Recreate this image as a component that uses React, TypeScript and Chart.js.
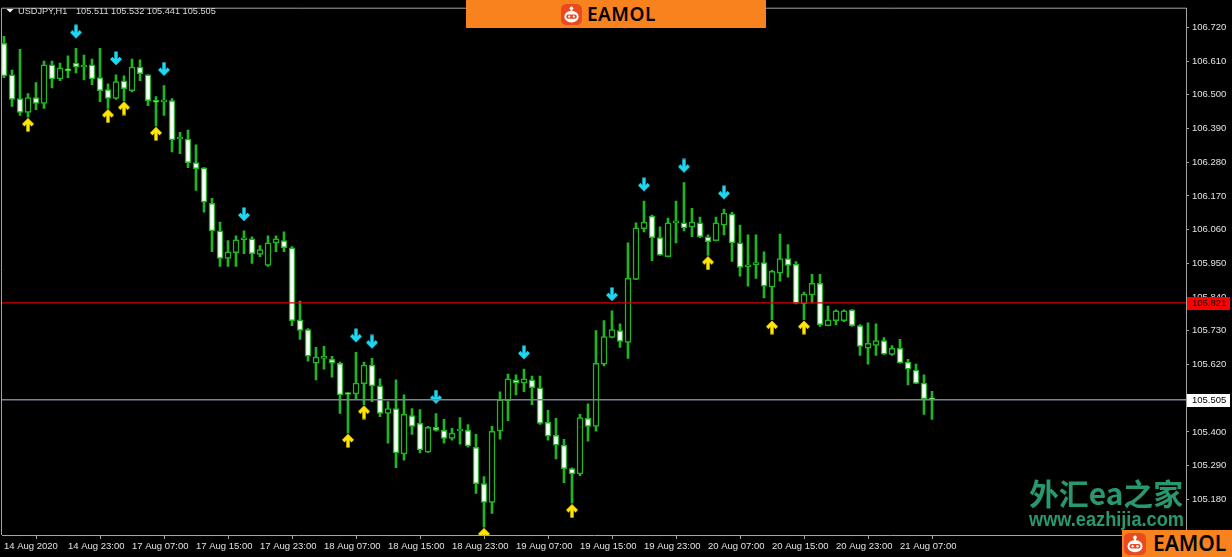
import React, { useEffect, useRef } from "react";
import { Chart, registerables } from "chart.js";

Chart.register(...registerables);

// ---- USDJPY H1 bars (index 0 = 14 Aug 2020 15:00) ----
const symbolCaption = "USDJPY,H1";

const opens = [
  106.668, 106.565, 106.488, 106.443, 106.491, 106.472, 106.598, 106.552, 106.585, 106.604,
  106.591, 106.598, 106.556, 106.517, 106.488, 106.546, 106.514, 106.591, 106.565, 106.478,
  106.477, 106.481, 106.356, 106.356, 106.279, 106.262, 106.146, 106.056, 105.966, 105.985,
  106.027, 106.030, 105.979, 105.943, 106.017, 106.024, 106.001, 105.766, 105.734, 105.624,
  105.640, 105.637, 105.624, 105.524, 105.524, 105.557, 105.618, 105.550, 105.460, 105.476,
  105.328, 105.453, 105.428, 105.334, 105.415, 105.405, 105.379, 105.403, 105.405, 105.350,
  105.231, 105.170, 105.402, 105.502, 105.570, 105.559, 105.570, 105.544, 105.431, 105.389,
  105.357, 105.280, 105.263, 105.444, 105.418, 105.621, 105.708, 105.731, 105.692, 105.898,
  106.063, 106.104, 106.034, 105.972, 106.082, 106.082, 106.069, 106.082, 106.037, 106.024,
  106.075, 106.111, 106.017, 105.939, 105.946, 105.953, 105.872, 105.918, 105.966, 105.947,
  105.818, 105.847, 105.885, 105.747, 105.763, 105.763, 105.798, 105.747, 105.673, 105.682,
  105.698, 105.653, 105.673, 105.628, 105.602, 105.559, 105.511,
];

const highs = [
  106.691, 106.581, 106.649, 106.504, 106.540, 106.610, 106.610, 106.604, 106.627, 106.652,
  106.630, 106.617, 106.652, 106.536, 106.565, 106.562, 106.617, 106.614, 106.566, 106.494,
  106.530, 106.488, 106.378, 106.385, 106.337, 106.263, 106.162, 106.085, 106.024, 106.040,
  106.056, 106.037, 106.008, 106.040, 106.040, 106.053, 106.005, 105.827, 105.737, 105.676,
  105.679, 105.647, 105.628, 105.528, 105.660, 105.628, 105.640, 105.573, 105.499, 105.570,
  105.521, 105.476, 105.473, 105.418, 105.460, 105.441, 105.412, 105.447, 105.424, 105.392,
  105.254, 105.418, 105.531, 105.589, 105.586, 105.605, 105.582, 105.582, 105.470, 105.444,
  105.376, 105.283, 105.457, 105.492, 105.731, 105.763, 105.795, 105.753, 106.017, 106.082,
  106.153, 106.108, 106.069, 106.098, 106.153, 106.214, 106.130, 106.101, 106.043, 106.101,
  106.127, 106.117, 106.075, 106.043, 106.043, 105.988, 105.927, 106.046, 106.011, 105.956,
  105.856, 105.914, 105.914, 105.811, 105.798, 105.798, 105.799, 105.750, 105.756, 105.753,
  105.708, 105.682, 105.702, 105.637, 105.621, 105.586, 105.532,
];

const lows = [
  106.556, 106.462, 106.433, 106.427, 106.452, 106.456, 106.523, 106.546, 106.556, 106.572,
  106.549, 106.533, 106.478, 106.456, 106.485, 106.481, 106.510, 106.546, 106.465, 106.398,
  106.433, 106.314, 106.308, 106.262, 106.188, 106.117, 105.988, 105.940, 105.940, 105.940,
  105.982, 105.950, 105.972, 105.940, 105.988, 105.988, 105.747, 105.702, 105.631, 105.570,
  105.605, 105.579, 105.460, 105.396, 105.505, 105.489, 105.499, 105.450, 105.363, 105.283,
  105.308, 105.392, 105.331, 105.333, 105.402, 105.363, 105.373, 105.360, 105.350, 105.199,
  105.089, 105.134, 105.376, 105.437, 105.521, 105.531, 105.489, 105.424, 105.373, 105.312,
  105.234, 105.167, 105.257, 105.370, 105.402, 105.615, 105.707, 105.676, 105.640, 105.897,
  106.053, 105.959, 105.976, 105.971, 106.017, 106.056, 106.037, 106.034, 105.976, 106.023,
  106.043, 105.956, 105.908, 105.876, 105.901, 105.837, 105.766, 105.892, 105.905, 105.818,
  105.766, 105.821, 105.744, 105.746, 105.750, 105.760, 105.744, 105.650, 105.621, 105.650,
  105.653, 105.650, 105.624, 105.553, 105.557, 105.457, 105.441,
];

const closes = [
  106.562, 106.485, 106.443, 106.491, 106.472, 106.598, 106.552, 106.588, 106.578, 106.591,
  106.594, 106.552, 106.514, 106.488, 106.543, 106.520, 106.591, 106.569, 106.481, 106.476,
  106.479, 106.353, 106.357, 106.279, 106.259, 106.150, 106.056, 105.966, 105.988, 106.027,
  106.028, 105.982, 105.995, 106.017, 106.030, 106.001, 105.763, 105.731, 105.647, 105.644,
  105.641, 105.624, 105.521, 105.522, 105.559, 105.618, 105.550, 105.460, 105.476, 105.331,
  105.457, 105.418, 105.341, 105.415, 105.405, 105.379, 105.396, 105.405, 105.354, 105.231,
  105.170, 105.402, 105.505, 105.573, 105.559, 105.573, 105.544, 105.428, 105.386, 105.357,
  105.280, 105.263, 105.447, 105.418, 105.624, 105.711, 105.734, 105.695, 105.901, 106.066,
  106.085, 106.034, 105.977, 106.082, 106.083, 106.066, 106.085, 106.037, 106.021, 106.082,
  106.114, 106.017, 105.937, 105.940, 105.950, 105.876, 105.924, 105.966, 105.943, 105.819,
  105.850, 105.885, 105.750, 105.766, 105.795, 105.795, 105.747, 105.679, 105.689, 105.698,
  105.654, 105.673, 105.625, 105.605, 105.558, 105.508, 105.505,
];

// Signal arrows: buy arrows sit under the bar's low, sell arrows over its high
const buySignalBars = [3, 13, 15, 19, 43, 45, 60, 71, 88, 96, 100];
const sellSignalBars = [9, 14, 20, 30, 44, 46, 54, 65, 76, 80, 85, 90];

// Time axis (one label every 8 bars)
const timeTickBars = [0, 8, 16, 24, 32, 40, 48, 56, 64, 72, 80, 88, 96, 104, 112];
const timeTickLabels = [
  "14 Aug 2020", "14 Aug 23:00", "17 Aug 07:00", "17 Aug 15:00", "17 Aug 23:00",
  "18 Aug 07:00", "18 Aug 15:00", "18 Aug 23:00", "19 Aug 07:00", "19 Aug 15:00",
  "19 Aug 23:00", "20 Aug 07:00", "20 Aug 15:00", "20 Aug 23:00", "21 Aug 07:00",
];

// Price axis
const priceTickValues = [
  106.72, 106.61, 106.5, 106.39, 106.28, 106.17, 106.06, 105.95, 105.84, 105.73,
  105.62, 105.51, 105.4, 105.29, 105.18, 105.07,
];

const resistanceLevel = 105.821;
const bidLevel = 105.505;

const brandName = "EAMOL";
const watermarkTitle = "外汇ea之家";
const watermarkUrl = "www.eazhijia.com";

// ---- styling ----
const CANDLE_GREEN = "#22b422";
const AXIS_GREY = "#a4a4a4";
const LABEL_COLOR = "#e2e2e2";
const BUY_COLOR = "#ffe600";
const SELL_COLOR = "#1ed8f2";
const BRAND_ORANGE = "#f7821e";
const BRAND_RED = "#ea4a1f";
const FONT_FAMILY = '"Liberation Sans", Arial, sans-serif';

function makeArrowImage(color: string, pointsUp: boolean): HTMLCanvasElement {
  // Canvas is centred on the data point; the arrow occupies the half away from the bar
  const c = document.createElement("canvas");
  const w = 12;
  const h = pointsUp ? 30 : 48;
  c.width = w;
  c.height = h;
  const g = c.getContext("2d")!;
  g.strokeStyle = color;
  g.lineWidth = 3.4;
  g.lineJoin = "miter";
  g.lineCap = "butt";
  const cx = 6;
  if (pointsUp) {
    const t = 16;
    g.beginPath();
    g.moveTo(cx - 4.8, t + 7);
    g.lineTo(cx, t + 2.2);
    g.lineTo(cx + 4.8, t + 7);
    g.stroke();
    g.beginPath();
    g.moveTo(cx, t + 2.5);
    g.lineTo(cx, t + 13.5);
    g.stroke();
  } else {
    const b = 14;
    g.beginPath();
    g.moveTo(cx - 4.8, b - 7);
    g.lineTo(cx, b - 2.2);
    g.lineTo(cx + 4.8, b - 7);
    g.stroke();
    g.beginPath();
    g.moveTo(cx, b - 2.5);
    g.lineTo(cx, b - 13.5);
    g.stroke();
  }
  return c;
}

function drawFittedText(
  ctx: CanvasRenderingContext2D,
  text: string,
  x: number,
  baseline: number,
  width: number,
  font: string,
  color: string
) {
  ctx.save();
  ctx.font = font;
  ctx.fillStyle = color;
  ctx.textAlign = "left";
  ctx.textBaseline = "alphabetic";
  const w = ctx.measureText(text).width || 1;
  ctx.translate(x, baseline);
  ctx.scale(width / w, 1);
  ctx.fillText(text, 0, 0);
  ctx.restore();
}

const terminalDecor = {
  id: "terminalDecor",
  beforeDraw(chart: any) {
    const { ctx, width, height } = chart;
    ctx.save();
    ctx.fillStyle = "#000000";
    ctx.fillRect(0, 0, width, height);
    ctx.restore();
  },
  beforeDatasetsDraw(chart: any) {
    const { ctx } = chart;
    drawFittedText(ctx, watermarkTitle, 1029, 505, 154, 'bold 30px "Noto Sans CJK SC", sans-serif', "#28986f");
    drawFittedText(ctx, watermarkUrl, 1029, 525.5, 155, `bold 21px ${FONT_FAMILY}`, "#28986f");
  },
  afterDatasetsDraw(chart: any) {
    const { ctx, chartArea: a, scales } = chart;
    const yr = scales.y.getPixelForValue(resistanceLevel);
    const yb = scales.y.getPixelForValue(bidLevel);
    ctx.save();
    ctx.lineWidth = 1.4;
    ctx.strokeStyle = "#d80000";
    ctx.beginPath();
    ctx.moveTo(a.left, yr);
    ctx.lineTo(a.right, yr);
    ctx.stroke();
    ctx.strokeStyle = "#7c8494";
    ctx.beginPath();
    ctx.moveTo(a.left, yb);
    ctx.lineTo(a.right, yb);
    ctx.stroke();
    ctx.restore();
  },
  afterDraw(chart: any) {
    const { ctx, chartArea: a, scales } = chart;
    ctx.save();

    // left and top edges of the chart frame
    ctx.strokeStyle = AXIS_GREY;
    ctx.lineWidth = 1;
    ctx.beginPath();
    ctx.moveTo(a.left - 0.5, a.bottom);
    ctx.lineTo(a.left - 0.5, a.top - 0.5);
    ctx.lineTo(a.right + 0.5, a.top - 0.5);
    ctx.stroke();

    // price tags on the axis
    const yr = scales.y.getPixelForValue(resistanceLevel);
    const yb = scales.y.getPixelForValue(bidLevel);
    ctx.font = `9.5px ${FONT_FAMILY}`;
    ctx.textAlign = "left";
    ctx.textBaseline = "middle";
    ctx.fillStyle = "#ff0000";
    ctx.fillRect(a.right + 1, Math.round(yr) - 6, 43, 13);
    ctx.fillStyle = "#000000";
    ctx.fillText(resistanceLevel.toFixed(3), a.right + 6, Math.round(yr) + 0.5);
    ctx.fillStyle = "#ffffff";
    ctx.fillRect(a.right + 1, Math.round(yb) - 6, 43, 13);
    ctx.fillStyle = "#000000";
    ctx.fillText(bidLevel.toFixed(3), a.right + 6, Math.round(yb) + 0.5);

    // symbol header with the last bar's OHLC
    const last = opens.length - 1;
    const ohlc = [opens[last], highs[last], lows[last], closes[last]].map((v) => v.toFixed(3)).join(" ");
    ctx.fillStyle = "#ffffff";
    ctx.beginPath();
    ctx.moveTo(6.5, 9);
    ctx.lineTo(13.5, 9);
    ctx.lineTo(10, 12.5);
    ctx.closePath();
    ctx.fill();
    ctx.fillStyle = "#dadada";
    ctx.textBaseline = "alphabetic";
    ctx.font = `9.2px ${FONT_FAMILY}`;
    ctx.fillText(symbolCaption, 18, 14);
    ctx.fillText(ohlc, 76, 14);

    ctx.restore();
  },
};

function RobotIcon({ size }: { size: number }) {
  return (
    <svg width={size} height={size} viewBox="0 0 20 20" style={{ display: "block" }}>
      <rect x={0} y={0} width={20} height={20} rx={5} fill={BRAND_RED} />
      <circle cx={10} cy={4} r={1.7} fill="#ffffff" />
      <rect x={9.3} y={4} width={1.4} height={3.4} fill="#ffffff" />
      <ellipse cx={10} cy={12} rx={6.8} ry={5.6} fill="#ffffff" />
      <rect x={5} y={10} width={10} height={4} rx={1.8} fill={BRAND_RED} />
      <circle cx={7.8} cy={12} r={1.1} fill="#ffffff" />
      <circle cx={12.2} cy={12} r={1.1} fill="#ffffff" />
    </svg>
  );
}

function BrandBadge(p: {
  left: number;
  top: number;
  width: number;
  height: number;
  iconLeft: number;
  iconTop: number;
  iconSize: number;
  textLeft: number;
  textTop: number;
  fontSize: number;
  spacing: number;
}) {
  return (
    <div
      style={{
        position: "absolute",
        left: p.left,
        top: p.top,
        width: p.width,
        height: p.height,
        background: BRAND_ORANGE,
        overflow: "hidden",
      }}
    >
      <div style={{ position: "absolute", left: p.iconLeft, top: p.iconTop }}>
        <RobotIcon size={p.iconSize} />
      </div>
      <div
        style={{
          position: "absolute",
          left: p.textLeft,
          top: p.textTop,
          fontFamily: '"Noto Sans", "Open Sans", sans-serif',
          fontWeight: 600,
          fontSize: p.fontSize,
          lineHeight: `${p.fontSize}px`,
          letterSpacing: p.spacing,
          color: "#000000",
          whiteSpace: "nowrap",
        }}
      >
        {brandName}
      </div>
    </div>
  );
}

export default function App() {
  const canvasRef = useRef<HTMLCanvasElement | null>(null);

  useEffect(() => {
    const canvas = canvasRef.current;
    if (!canvas) return;

    const bars = opens.map((_, i) => i);
    const upArrow = makeArrowImage(BUY_COLOR, true);
    const downArrow = makeArrowImage(SELL_COLOR, false);

    const chart = new Chart(canvas, {
      type: "bar",
      data: {
        datasets: [
          {
            label: "bodies",
            data: bars.map((i) => ({ x: i, y: [opens[i], closes[i]] })),
            backgroundColor: bars.map((i) => (closes[i] < opens[i] ? "#ffffff" : "#000000")),
            borderColor: CANDLE_GREEN,
            borderWidth: 1.5,
            borderSkipped: false,
            barThickness: 6,
            minBarLength: 2,
            grouped: false,
            order: 0,
          } as any,
          {
            label: "wicks",
            data: bars.map((i) => ({ x: i, y: [lows[i], highs[i]] })),
            backgroundColor: CANDLE_GREEN,
            borderWidth: 0,
            barThickness: 2,
            grouped: false,
            order: 1,
          } as any,
          {
            type: "scatter",
            label: "buy",
            data: buySignalBars.map((i) => ({ x: i, y: lows[i] })),
            pointStyle: upArrow,
            pointRadius: 5,
            order: -1,
          } as any,
          {
            type: "scatter",
            label: "sell",
            data: sellSignalBars.map((i) => ({ x: i, y: highs[i] })),
            pointStyle: downArrow,
            pointRadius: 5,
            order: -1,
          } as any,
        ],
      },
      options: {
        responsive: false,
        devicePixelRatio: 1,
        animation: false,
        events: [],
        layout: { padding: { left: 2, top: 2, right: 0, bottom: 0 }, autoPadding: false } as any,
        plugins: { legend: { display: false }, tooltip: { enabled: false } },
        scales: {
          x: {
            type: "linear",
            position: "bottom",
            min: -0.25,
            max: 147.75,
            offset: false,
            bounds: "data",
            afterBuildTicks: (s: any) => {
              s.ticks = timeTickBars.map((v) => ({ value: v }));
            },
            afterFit: (s: any) => {
              s.height = 22;
            },
            grid: { display: true, drawOnChartArea: false, drawTicks: true, tickLength: 4, color: AXIS_GREY },
            border: { display: true, color: AXIS_GREY, width: 1 },
            ticks: {
              autoSkip: false,
              maxRotation: 0,
              minRotation: 0,
              align: "start",
              padding: 2,
              color: LABEL_COLOR,
              font: { family: FONT_FAMILY, size: 9.5 },
              callback: (v: any) => {
                const k = timeTickBars.indexOf(Number(v));
                return k >= 0 ? timeTickLabels[k] : "";
              },
            },
          } as any,
          y: {
            type: "linear",
            position: "right",
            min: 105.0635,
            max: 106.7812,
            bounds: "data",
            afterBuildTicks: (s: any) => {
              s.ticks = priceTickValues.map((v) => ({ value: v }));
            },
            afterFit: (s: any) => {
              s.width = 46;
            },
            grid: { display: true, drawOnChartArea: false, drawTicks: true, tickLength: 3, color: AXIS_GREY },
            border: { display: true, color: AXIS_GREY, width: 1 },
            ticks: {
              padding: 3,
              color: LABEL_COLOR,
              font: { family: FONT_FAMILY, size: 9.5 },
              callback: (v: any) => Number(v).toFixed(3),
            },
          } as any,
        },
      },
      plugins: [terminalDecor as any],
    });

    return () => chart.destroy();
  }, []);

  return (
    <div style={{ position: "fixed", left: 0, top: 0, width: 1232, height: 557, background: "#000", overflow: "hidden" }}>
      <canvas ref={canvasRef} width={1232} height={557} style={{ display: "block", width: 1232, height: 557 }} />
      <BrandBadge
        left={466}
        top={0}
        width={300}
        height={28}
        iconLeft={95}
        iconTop={4}
        iconSize={21}
        textLeft={121}
        textTop={5}
        fontSize={19}
        spacing={0.5}
      />
      <BrandBadge
        left={1122}
        top={530}
        width={110}
        height={27}
        iconLeft={2}
        iconTop={3}
        iconSize={22}
        textLeft={31}
        textTop={3}
        fontSize={21}
        spacing={0}
      />
    </div>
  );
}
